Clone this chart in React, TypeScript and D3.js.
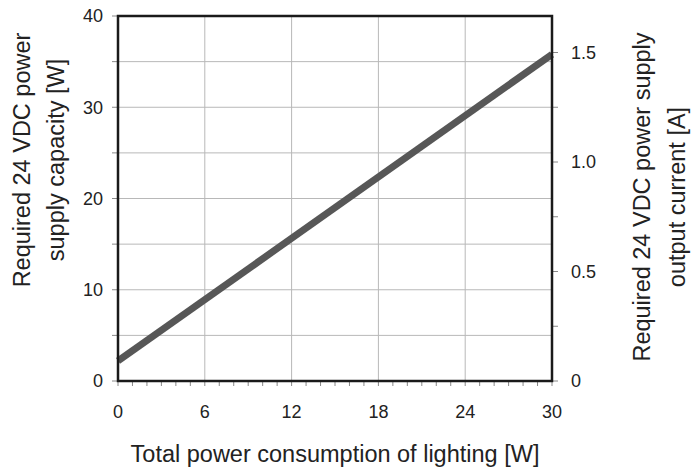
import React, { useRef, useEffect } from 'react';
import * as d3 from 'd3';

// line data: total lighting power [W] -> required supply capacity [W]
const lightingW = [0, 30];
const capacityW = [2.2, 35.8];

const xTicks = [0, 6, 12, 18, 24, 30];
const xMinorTicks = d3.range(0, 31, 1);
const yLeftTicks = [0, 10, 20, 30, 40];
const yLeftMinor = [0, 5, 10, 15, 20, 25, 30, 35, 40];
const yRightTicks = [0, 0.5, 1.0, 1.5];
const yRightMinor = [0, 0.25, 0.5, 0.75, 1.0, 1.25, 1.5];

const xTitle = 'Total power consumption of lighting [W]';
const yLeftTitle = ['Required 24 VDC power', 'supply capacity [W]'];
const yRightTitle = ['Required 24 VDC power supply', 'output current [A]'];

const App = () => {
    const ref = useRef(null);

    useEffect(() => {
        const svg = d3.select(ref.current);
        svg.selectAll('*').remove();

        const margin = { top: 16, left: 118, right: 148, bottom: 89 };
        const W = 700, H = 470;
        const width = W - margin.left - margin.right;
        const height = H - margin.top - margin.bottom;
        const font = 'Liberation Sans, Arial, sans-serif';
        const titleSize = '23.5px';
        const tickSize = '18px';

        const x = d3.scaleLinear().domain([0, 30]).range([0, width]);
        const y = d3.scaleLinear().domain([0, 40]).range([height, 0]);
        const yA = d3.scaleLinear().domain([0, 40 / 24]).range([height, 0]);

        const g = svg.append('g')
            .attr('transform', `translate(${margin.left},${margin.top})`);

        // grid
        g.append('g').selectAll('line')
            .data(yLeftMinor.slice(1, -1))
            .join('line')
            .attr('x1', 0).attr('x2', width)
            .attr('y1', d => y(d)).attr('y2', d => y(d))
            .attr('stroke', '#b8b8b8').attr('stroke-width', 1);

        g.append('g').selectAll('line')
            .data(xTicks.slice(1, -1))
            .join('line')
            .attr('x1', d => x(d)).attr('x2', d => x(d))
            .attr('y1', 0).attr('y2', height)
            .attr('stroke', '#b8b8b8').attr('stroke-width', 1);

        // ticks
        g.append('g').selectAll('line')
            .data(xMinorTicks)
            .join('line')
            .attr('x1', d => x(d)).attr('x2', d => x(d))
            .attr('y1', height).attr('y2', height + 5)
            .attr('stroke', '#888').attr('stroke-width', 1);

        g.append('g').selectAll('line')
            .data(yLeftMinor)
            .join('line')
            .attr('x1', -6).attr('x2', 0)
            .attr('y1', d => y(d)).attr('y2', d => y(d))
            .attr('stroke', '#888').attr('stroke-width', 1);

        g.append('g').selectAll('line')
            .data(yRightMinor)
            .join('line')
            .attr('x1', width).attr('x2', width + 6)
            .attr('y1', d => yA(d)).attr('y2', d => yA(d))
            .attr('stroke', '#888').attr('stroke-width', 1);

        // tick labels
        g.append('g').selectAll('text')
            .data(xTicks)
            .join('text')
            .attr('x', d => x(d)).attr('y', height + 37)
            .attr('text-anchor', 'middle')
            .style('font-family', font).style('font-size', tickSize).style('fill', '#222')
            .text(d => d);

        g.append('g').selectAll('text')
            .data(yLeftTicks)
            .join('text')
            .attr('x', -15).attr('y', d => y(d)).attr('dy', '0.35em')
            .attr('text-anchor', 'end')
            .style('font-family', font).style('font-size', tickSize).style('fill', '#222')
            .text(d => d);

        g.append('g').selectAll('text')
            .data(yRightTicks)
            .join('text')
            .attr('x', width + 19).attr('y', d => yA(d)).attr('dy', '0.35em')
            .attr('text-anchor', 'start')
            .style('font-family', font).style('font-size', tickSize).style('fill', '#222')
            .text(d => d === 0 ? '0' : d3.format('.1f')(d));

        // data line
        const pts = lightingW.map((v, i) => [v, capacityW[i]]);
        const line = d3.line().x(d => x(d[0])).y(d => y(d[1]));
        g.append('path')
            .datum(pts)
            .attr('d', line)
            .attr('fill', 'none')
            .attr('stroke', '#575757')
            .attr('stroke-width', 7);

        // frame
        g.append('rect')
            .attr('x', 0).attr('y', 0)
            .attr('width', width).attr('height', height)
            .attr('fill', 'none')
            .attr('stroke', '#1a1a1a').attr('stroke-width', 2.5);

        // titles
        svg.append('text')
            .attr('x', margin.left + width / 2 - 0).attr('y', 462)
            .attr('text-anchor', 'middle')
            .style('font-family', font).style('font-size', titleSize).style('fill', '#222')
            .text(xTitle);

        const leftCy = 160;
        yLeftTitle.forEach((t, i) => {
            svg.append('text')
                .attr('transform', `translate(${30 + i * 34},${leftCy}) rotate(-90)`)
                .attr('text-anchor', 'middle')
                .style('font-family', font).style('font-size', titleSize).style('fill', '#222')
                .text(t);
        });

        const rightCy = 197;
        yRightTitle.forEach((t, i) => {
            svg.append('text')
                .attr('transform', `translate(${650 + i * 35},${rightCy}) rotate(-90)`)
                .attr('text-anchor', 'middle')
                .style('font-family', font).style('font-size', titleSize).style('fill', '#222')
                .text(t);
        });
    }, []);

    return (
        <svg ref={ref} width={700} height={470}
            style={{ position: 'absolute', left: 0, top: 0, background: '#fff' }} />
    );
};

export default App;
